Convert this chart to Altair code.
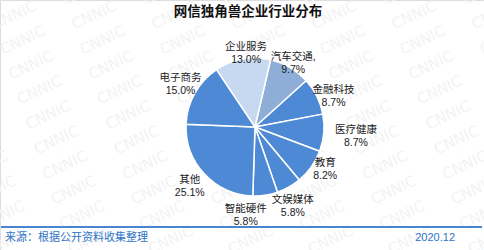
import math
import altair as alt
import pandas as pd

# ---- data ----
categories = ["汽车交通", "金融科技", "医疗健康", "教育", "文娱媒体", "智能硬件", "其他", "电子商务", "企业服务"]
shares = [9.7, 8.7, 8.7, 8.2, 5.8, 5.8, 25.1, 15.0, 13.0]
label_names = ["汽车交通,", "金融科技", "医疗健康", "教育", "文娱媒体", "智能硬件", "其他", "电子商务", "企业服务"]
slice_colors = ["#8eaed8", "#4e89d5", "#4e89d5", "#4e89d5", "#4e89d5", "#4e89d5", "#4e89d5", "#4e89d5", "#c6d9f0"]
# label placement (layout): radius in px and angle shift in degrees
label_radius = [80, 87, 101, 79, 82, 83, 84, 89, 80]
label_shift = [-2, 1, -3, -8, 2, 15, 4, 4, 4]

title_text = "网信独角兽企业行业分布"
source_text = "来源：根据公开资料收集整理"
date_text = "2020.12"

FONT = "Liberation Sans, Arial, Noto Sans CJK SC, sans-serif"
CX, CY, R = 255, 127, 69
start = math.radians(13)

df = pd.DataFrame({
    "cat": categories,
    "share": shares,
    "idx": list(range(len(categories))),
    "label": [f"{n}\n{v:.1f}%" for n, v in zip(label_names, shares)],
    "lr": label_radius,
    "ls": label_shift,
})

theta_scale = alt.Scale(domain=[0, 100], range=[start, start + 2 * math.pi])

# watermark (decoration)
wm = []
for col in range(-3, 7):
    for row in range(-1, 11):
        wm.append({"x": 14 + col * 80 + row * 8.5, "y": 15 + row * 25, "t": "CNNIC"})
wm_df = pd.DataFrame(wm)

watermark = alt.Chart(wm_df).mark_text(
    font="DejaVu Sans", fontSize=15, angle=335, color="#f3f3f3"
).encode(
    x=alt.X("x:Q", scale=None), y=alt.Y("y:Q", scale=None), text="t:N"
)

base = alt.Chart(df).transform_window(
    s1="sum(share)", sort=[alt.SortField("idx")], frame=[None, 0]
).transform_calculate(
    s0="datum.s1 - datum.share",
    mid="datum.s1 - datum.share / 2 + datum.ls * 100 / 360",
)

arcs = base.mark_arc(radius=R, stroke="white", strokeWidth=1.5).encode(
    theta=alt.Theta("s0:Q", scale=theta_scale),
    theta2="s1:Q",
    color=alt.Color("cat:N", scale=alt.Scale(domain=categories, range=slice_colors), legend=None),
    x=alt.value(CX), y=alt.value(CY),
)

labels = base.mark_text(
    font=FONT, fontSize=10.5, lineBreak="\n", lineHeight=13, color="#1a1a1a",
    align="center", baseline="middle"
).encode(
    theta=alt.Theta("mid:Q", scale=theta_scale),
    radius=alt.Radius("lr:Q", scale=None),
    text="label:N",
    x=alt.value(CX), y=alt.value(CY),
)

title = alt.Chart(pd.DataFrame({"t": [title_text]})).mark_text(
    font=FONT, fontSize=13.5, fontWeight="bold", color="#111111", align="center", baseline="middle"
).encode(text="t:N", x=alt.value(248), y=alt.value(12))

rule = alt.Chart(pd.DataFrame({"a": [0]})).mark_rule(color="#4a86d0", strokeWidth=2).encode(
    x=alt.value(1), x2=alt.value(482), y=alt.value(227)
)

source = alt.Chart(pd.DataFrame({"t": [source_text]})).mark_text(
    font=FONT, fontSize=11, color="#2f74c6", align="left", baseline="middle"
).encode(text="t:N", x=alt.value(5), y=alt.value(238))

date = alt.Chart(pd.DataFrame({"t": [date_text]})).mark_text(
    font=FONT, fontSize=11, color="#2f74c6", align="right", baseline="middle"
).encode(text="t:N", x=alt.value(455), y=alt.value(238))

chart = alt.layer(watermark, arcs, labels, title, rule, source, date).properties(
    width=484, height=250, autosize=alt.AutoSizeParams(type="none"), padding=0
).configure_view(stroke=None).configure(background="white")

chart.save("out.html", embed_options={"renderer": "svg", "actions": False})
